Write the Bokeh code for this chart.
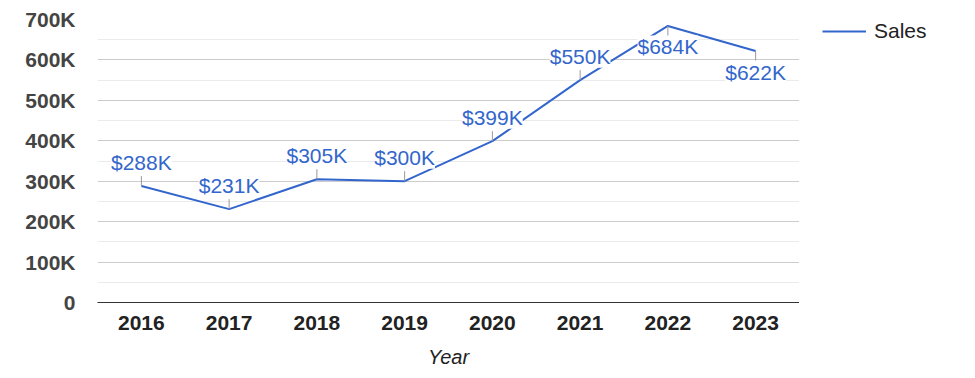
from bokeh.plotting import figure
from bokeh.models import (Range1d, FactorRange, ColumnDataSource, Legend, LegendItem,
                          FixedTicker)
from bokeh.layouts import row
from bokeh.embed import file_html
from bokeh.resources import INLINE
from bokeh.core.properties import value

# ---- data ----
years = ["2016", "2017", "2018", "2019", "2020", "2021", "2022", "2023"]
sales = [288000, 231000, 305000, 300000, 399000, 550000, 684000, 622000]
label_side = ["above", "above", "above", "above", "above", "above", "below", "below"]
y_ticks = [0, 100000, 200000, 300000, 400000, 500000, 600000, 700000]
y_minor = [50000, 150000, 250000, 350000, 450000, 550000, 650000]
y_tick_labels = ["0", "100K", "200K", "300K", "400K", "500K", "600K", "700K"]
series_name = "Sales"
x_title = "Year"

# ---- layout constants ----
W, H = 799, 370
W2 = 160
BL, BT, BB = 97, 19, 68
YMAX = 700000
frame_h = H - BT - BB
unit_per_px = YMAX / frame_h
FONT = "Liberation Sans"
BLUE = "#3366cc"

labels = ["$%dK" % (v // 1000) for v in sales]
lead_end = [v + 10 * unit_per_px if s == "above" else v - 11 * unit_per_px
            for v, s in zip(sales, label_side)]

src = ColumnDataSource(dict(x=years, y=sales, lab=labels, y1=lead_end))
above = ColumnDataSource(dict(
    x=[x for x, s in zip(years, label_side) if s == "above"],
    y=[v for v, s in zip(sales, label_side) if s == "above"],
    lab=[l for l, s in zip(labels, label_side) if s == "above"]))
below = ColumnDataSource(dict(
    x=[x for x, s in zip(years, label_side) if s == "below"],
    y=[v for v, s in zip(sales, label_side) if s == "below"],
    lab=[l for l, s in zip(labels, label_side) if s == "below"]))

p = figure(width=W, height=H, x_range=FactorRange(*years, range_padding=0),
           y_range=Range1d(0, YMAX), output_backend="svg", toolbar_location=None,
           min_border_left=BL, min_border_right=0, min_border_top=BT,
           min_border_bottom=BB)
p.outline_line_color = None
p.background_fill_color = "white"
p.border_fill_color = "white"

# grid
p.xgrid.grid_line_color = None
p.yaxis.ticker = FixedTicker(ticks=y_ticks, minor_ticks=y_minor)
p.ygrid.grid_line_color = "#cccccc"
p.ygrid.minor_grid_line_color = "#ebebeb"

# y axis
p.yaxis.axis_line_color = None
p.yaxis.major_tick_line_color = None
p.yaxis.minor_tick_line_color = None
p.yaxis.major_tick_out = 0
p.yaxis.major_tick_in = 0
p.yaxis.minor_tick_out = 0
p.yaxis.major_label_standoff = 22
p.yaxis.major_label_overrides = {t: l for t, l in zip(y_ticks, y_tick_labels)}
p.yaxis.major_label_text_font = FONT
p.yaxis.major_label_text_font_size = "21px"
p.yaxis.major_label_text_font_style = "bold"
p.yaxis.major_label_text_color = "#444444"

# x axis
p.xaxis.axis_line_color = "#333333"
p.xaxis.axis_line_width = 1
p.xaxis.major_tick_line_color = None
p.xaxis.minor_tick_line_color = None
p.xaxis.major_tick_out = 0
p.xaxis.major_tick_in = 0
p.xaxis.major_label_standoff = 13
p.xaxis.major_label_text_font = FONT
p.xaxis.major_label_text_font_size = "21px"
p.xaxis.major_label_text_font_style = "bold"
p.xaxis.major_label_text_color = "#222222"
p.xaxis.axis_label = x_title
p.xaxis.axis_label_standoff = 13
p.xaxis.axis_label_text_font = FONT
p.xaxis.axis_label_text_font_size = "20px"
p.xaxis.axis_label_text_font_style = "italic"
p.xaxis.axis_label_text_color = "#222222"

# line
ln = p.line("x", "y", source=src, line_color=BLUE, line_width=2)

# leaders
p.segment(x0="x", y0="y", x1="x", y1="y1", source=src, line_color="#999999", line_width=1)

# labels
common = dict(text="lab", text_font=value(FONT), text_font_size="21px",
              text_color=BLUE, text_align="center", text_baseline="alphabetic",
              background_fill_color="white")
p.text(x="x", y="y", source=above, y_offset=-24, **common)
p.text(x="x", y="y", source=below, y_offset=21, **common)

# legend panel
p2 = figure(width=W2, height=H, x_range=Range1d(0, 1), y_range=Range1d(0, 1),
            output_backend="svg", toolbar_location=None,
            min_border_left=23, min_border_top=15, min_border_right=0,
            min_border_bottom=0)
p2.axis.visible = False
p2.grid.visible = False
p2.outline_line_color = None
p2.border_fill_color = "white"
nan = float("nan")
dummy = p2.line(x=[nan], y=[nan], line_color=BLUE, line_width=2)
legend = Legend(items=[LegendItem(label=series_name, renderers=[dummy])],
                location="top_left", border_line_color=None,
                background_fill_alpha=0, padding=0, margin=0, glyph_width=44,
                label_standoff=8, label_text_font=FONT, label_text_font_size="21px",
                label_text_color="#222222")
p2.add_layout(legend, "center")

layout = row(p, p2, spacing=0)
open("out.html", "w").write(file_html(layout, INLINE))
